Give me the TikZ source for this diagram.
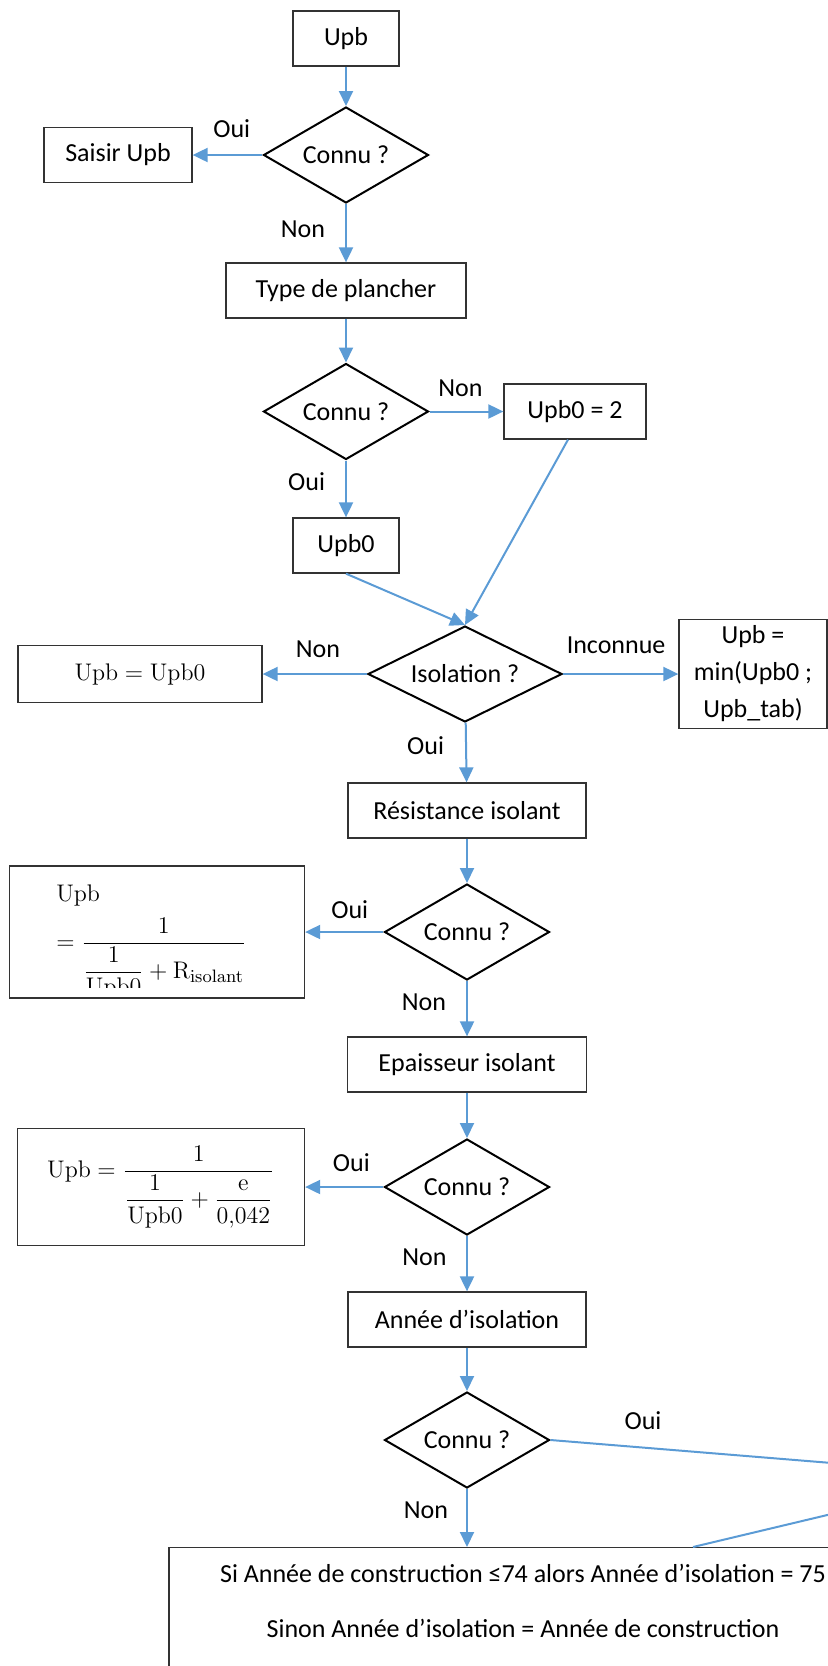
\documentclass[tikz,border=0pt]{standalone}
\usepackage[no-math]{fontspec}
\setmainfont{Carlito}
\usepackage{amsmath}
\usepackage{tikz}
\usetikzlibrary{positioning, shapes.geometric, arrows.meta}
\definecolor{flowblue}{HTML}{5B9BD5}

\begin{document}
\begin{tikzpicture}[x=0.5pt, y=-0.5pt,
    every node/.style = {font=\fontsize{13pt}{16pt}\selectfont},
    main/.style = {draw=black!80, line width=0.65pt, minimum height=27.5pt, inner sep=0pt},
    cond/.style = {draw, diamond, aspect=2, line width=1pt, minimum width=82.5pt, minimum height=48pt, inner sep=0pt},
    flow/.style = {draw=flowblue, line width=1pt, -{Triangle[length=7.5pt, width=7pt]}},
    tag/.style = {inner sep=0pt}]
    \useasboundingbox (0,0) rectangle (828,1666);
    \clip (0,0) rectangle (828,1666);
    \node[main, minimum width=53pt] (1) at (346,38.5) {Upb};
    \node[cond] (2) [below of=1, node distance=58.25pt] {Connu ?};
    \node[main, minimum width=74pt] (3) [left of=2, node distance=114pt] {Saisir Upb};
    \node[main, minimum width=120pt] (4) [below of=2, node distance=67.75pt] {Type de plancher};
    \node[cond] (5) [below of=4, node distance=60.5pt] {Connu ?};
    \node[main, minimum width=71pt] (6) [right of=5, node distance=114.5pt] {Upb0 = 2};
    \node[main, minimum width=53pt] (7) [below of=5, node distance=67pt] {Upb0};
    \node[cond, minimum width=97pt] (8) [below of=7, node distance=64.25pt, xshift=59.5pt] {Isolation ?};
    \node[main, minimum width=122pt, minimum height=28.5pt] (9) [left of=8, node distance=162.5pt] {$\mathrm{Upb}=\mathrm{Upb0}$};
    \node[main, minimum width=74pt, minimum height=54.5pt, align=center, font=\fontsize{13pt}{18.5pt}\selectfont] (10) [right of=8, node distance=144pt] {Upb =\\min(Upb0 ;\\Upb\_tab)};
    \node[main, minimum width=119pt] (11) [below of=8, node distance=68.25pt, xshift=1pt] {Résistance isolant};
    \node[cond] (12) [below of=11, node distance=60.75pt] {Connu ?};
    \node[main, minimum width=147.5pt, minimum height=66pt] (13) [left of=12, node distance=155pt] {};
    \node[main, minimum width=119.5pt] (14) [below of=12, node distance=66.25pt] {Epaisseur isolant};
    \node[cond] (15) [below of=14, node distance=61.25pt] {Connu ?};
    \node[main, minimum width=143.5pt, minimum height=58.5pt, font=\fontsize{12.5pt}{15pt}\selectfont] (16) [left of=15, node distance=153pt] {$\displaystyle\mathrm{Upb}=\frac{1}{\dfrac{1}{\mathrm{Upb0}}+\dfrac{\mathrm{e}}{0{,}042}}$};
    \node[main, minimum width=119pt] (17) [below of=15, node distance=66.25pt] {Année d’isolation};
    \node[cond] (18) [below of=17, node distance=60.25pt] {Connu ?};
    \node[main, anchor=north, minimum width=354pt, inner ysep=8pt, align=center, font=\fontsize{13pt}{27.5pt}\selectfont] (19) at (523,1547) {Si Année de construction ≤74 alors Année d’isolation = 75\\Sinon Année d’isolation = Année de construction\rule[-16pt]{0pt}{0pt}};
    \coordinate (20) at (991,1476);
    \begin{scope}
        \clip (13.north west) rectangle ([yshift=5.5pt]13.south east);
        \node[anchor=base west, inner sep=0pt, font=\fontsize{12.5pt}{15pt}\selectfont] (21) at ([shift={(47,36)}]13.north west) {$\mathrm{Upb}$};
        \node[anchor=base west, inner sep=0pt, font=\fontsize{12.5pt}{15pt}\selectfont] (22) at ([shift={(47,84)}]13.north west) {$\displaystyle=\frac{1}{\dfrac{1}{\mathrm{Upb0}}+\mathrm{R}_{\mathrm{isolant}}}$};
    \end{scope}
    \draw[flow] (1) -- (2);
    \draw[flow] (2) -- node[tag, pos=0.44, above=8pt] (2o) {Oui} (3);
    \draw[flow] (2) -- node[tag, pos=0.43, left=10pt] (2n) {Non} (4);
    \draw[flow] (4) -- (5);
    \draw[flow] (5) -- node[tag, pos=0.42, above=7pt] (5n) {Non} (6);
    \draw[flow] (5) -- node[tag, pos=0.38, left=10pt] (5o) {Oui} (7);
    \draw[flow] (7.south) -- (8.north);
    \draw[flow] ([xshift=-3.5pt]6.south) -- (8.north);
    \draw[flow] (8) -- node[tag, pos=0.47, above=7.5pt] (8n) {Non} (9);
    \draw[flow] (8) -- node[tag, pos=0.46, above=9.5pt] (8i) {Inconnue} (10);
    \draw[flow] (8) -- node[tag, pos=0.39, left=10.5pt] (8o) {Oui} (11);
    \draw[flow] (11) -- (12);
    \draw[flow] (12) -- node[tag, pos=0.43, above=6pt] (12o) {Oui} (13);
    \draw[flow] (12) -- node[tag, pos=0.39, left=10pt] (12n) {Non} (14);
    \draw[flow] (14) -- (15);
    \draw[flow] (15) -- node[tag, pos=0.41, above=7pt] (15o) {Oui} (16);
    \draw[flow] (15) -- node[tag, pos=0.38, left=9.75pt] (15n) {Non} (17);
    \draw[flow] (17) -- (18);
    \draw[flow] (18) -- node[tag, pos=0.37, left=9pt] (18n) {Non} (18 |- 19.north);
    \draw[flow, -] (18.east) -- node[tag, pos=0.21, above=8.3pt] (18o) {Oui} (20) -- ([xshift=85pt]19.north);
\end{tikzpicture}
\end{document}
